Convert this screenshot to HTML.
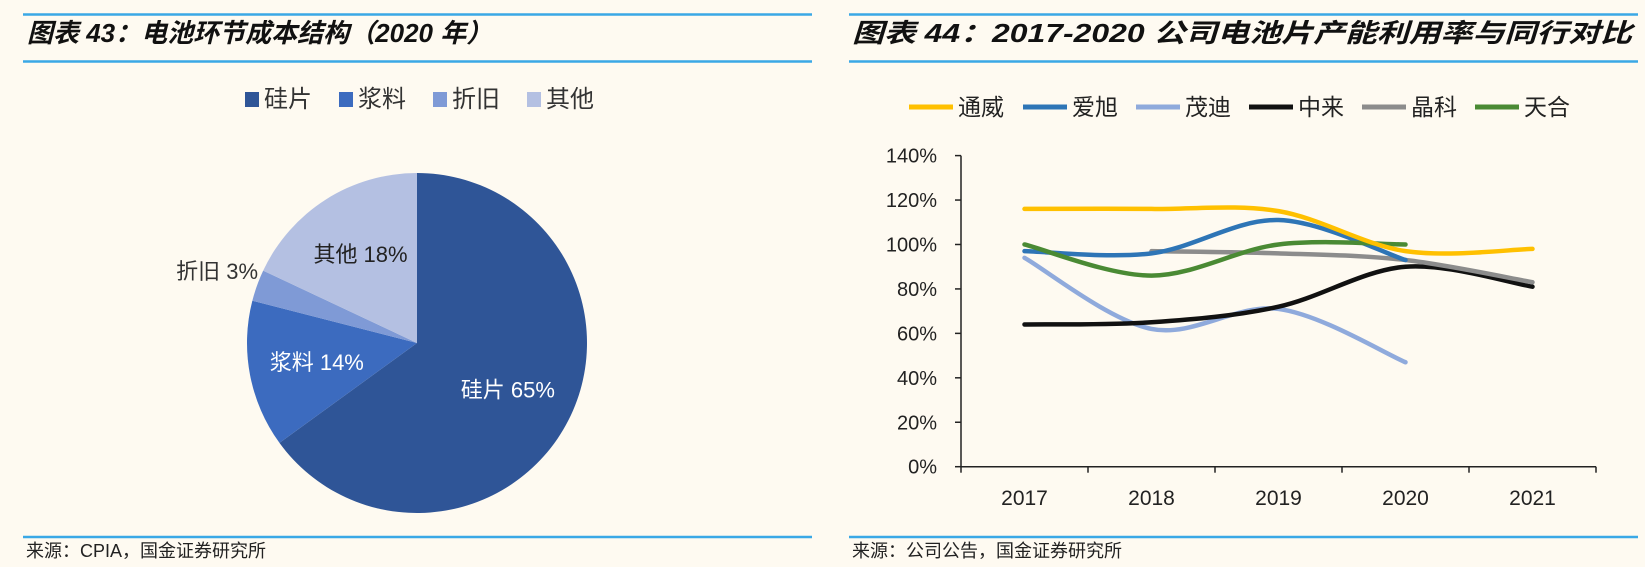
<!DOCTYPE html>
<html><head><meta charset="utf-8">
<style>
html,body{margin:0;padding:0;background:#fefaf1;}
svg{display:block;}
text{font-family:"Liberation Sans","Noto Sans CJK SC",sans-serif;}
.title{font-family:"Liberation Sans","Noto Sans CJK SC",sans-serif;font-style:italic;font-weight:bold;font-size:26px;fill:#111;}
</style></head>
<body>
<svg id="root" width="1645" height="567" viewBox="0 0 1645 567" xmlns="http://www.w3.org/2000/svg">
  <rect width="1645" height="567" fill="#fefaf1"/>
  <line x1="23" y1="14.5" x2="812" y2="14.5" stroke="#3aa8e6" stroke-width="2.5"/>
  <line x1="23" y1="61.5" x2="812" y2="61.5" stroke="#3aa8e6" stroke-width="2.5"/>
  <text class="title" x="27" y="42">图表 43：电池环节成本结构（2020 年）</text>
  <g id="pie-legend"></g>
  <g id="pie"></g>
  <line x1="23" y1="537" x2="812" y2="537" stroke="#3aa8e6" stroke-width="2.5"/>
  <text x="26" y="557" font-size="18" fill="#222">来源：CPIA，国金证券研究所</text>

  <line x1="849" y1="14.5" x2="1638" y2="14.5" stroke="#3aa8e6" stroke-width="2.5"/>
  <line x1="849" y1="61.5" x2="1638" y2="61.5" stroke="#3aa8e6" stroke-width="2.5"/>
  <text class="title" x="852" y="42" textLength="780" lengthAdjust="spacingAndGlyphs">图表 44：2017-2020 公司电池片产能利用率与同行对比</text>
  <g id="line-legend"></g>
  <g id="axes"></g>
  <g id="lines"></g>
  <line x1="849" y1="537" x2="1638" y2="537" stroke="#3aa8e6" stroke-width="2.5"/>
  <text x="852" y="557" font-size="18" fill="#222">来源：公司公告，国金证券研究所</text>
</svg>
<script>
const NS="http://www.w3.org/2000/svg";
const pieLabels=["硅片","浆料","折旧","其他"];
const pieValues=[65,14,3,18];
const pieColors=["#2f5597","#3c6bbf","#7f9ad6","#b4c0e2"];
const years=["2017","2018","2019","2020","2021"];
const seriesNames=["通威","爱旭","茂迪","中来","晶科","天合"];
const tongwei=[116,116,115,97,98];
const aixu=[97,96,111,93,null];
const maodi=[94,62,71,47,null];
const zhonglai=[64,65,72,90,81];
const jinko=[null,97,96,93,83];
const trina=[100,86,100,100,null];
const seriesColors=["#ffc000","#2e75b6","#8faadc","#111111","#8c8c8c","#4a8a34"];
const yTicks=[0,20,40,60,80,100,120,140];

function mk(tag,attrs,parent){const e=document.createElementNS(NS,tag);for(const k in attrs)e.setAttribute(k,attrs[k]);parent.appendChild(e);return e;}

(function(){
  const g=document.getElementById('pie-legend');
  const xs=[245,339,433,527];
  pieLabels.forEach((l,i)=>{
    const r=mk('rect',{x:xs[i],y:92,width:14,height:15,fill:pieColors[i]},g);
    
    
    const t=mk('text',{x:xs[i]+19,y:107,'font-size':24,fill:'#333'},g);
    t.textContent=l;
    
    
  });
})();
(function(){
  const g=document.getElementById('pie');
  const cx=417,cy=343,r=170;
  const total=pieValues.reduce((a,b)=>a+b,0);
  let a0=-Math.PI/2;
  pieValues.forEach((v,i)=>{
    const a1=a0+v/total*2*Math.PI;
    const large=(a1-a0)>Math.PI?1:0;
    const d=`M${cx},${cy} L${cx+r*Math.cos(a0)},${cy+r*Math.sin(a0)} A${r},${r} 0 ${large} 1 ${cx+r*Math.cos(a1)},${cy+r*Math.sin(a1)} Z`;
    const p=mk('path',{d:d,fill:pieColors[i]},g);
    
    
    const am=(a0+a1)/2;
    let lr=r*0.6, col='#fff';
    if(i===2){lr=r*1.25;col='#333';}
    if(i===3){lr=r*0.62;col='#222';}
    const t=mk('text',{x:cx+lr*Math.cos(am),y:cy+lr*Math.sin(am)+8,'font-size':22,fill:col,'text-anchor':'middle'},g);
    t.textContent=pieLabels[i]+' '+v+'%';
    
    
    a0=a1;
  });
})();
(function(){
  const x0=961,x1=1596,yBase=466.7,yTop=155.6;
  const ys=v=>yBase-(v-0)/(140)*(yBase-yTop);
  const band=(x1-x0)/years.length;
  const xs=i=>x0+band*(i+0.5);
  const ax=document.getElementById('axes');
  let e=mk('line',{x1:x0,y1:yTop,x2:x0,y2:yBase,stroke:'#222','stroke-width':1.5},ax);
  
  e=mk('line',{x1:x0,y1:yBase,x2:x1,y2:yBase,stroke:'#222','stroke-width':1.5},ax);
  
  yTicks.forEach(v=>{
    const tk=mk('line',{x1:x0-6,y1:ys(v),x2:x0,y2:ys(v),stroke:'#222','stroke-width':1.5},ax);
    
    const t=mk('text',{x:937,y:ys(v)+7,'font-size':20,fill:'#222','text-anchor':'end'},ax);
    t.textContent=v+'%';
    
  });
  for(let i=0;i<=years.length;i++){
    const tk=mk('line',{x1:x0+band*i,y1:yBase,x2:x0+band*i,y2:yBase+6,stroke:'#222','stroke-width':1.5},ax);
    
  }
  years.forEach((y,i)=>{
    const t=mk('text',{x:xs(i),y:505,'font-size':21,fill:'#222','text-anchor':'middle'},ax);
    t.textContent=y;
    
  });
  const lg=document.getElementById('line-legend');
  const lx=[909,1023,1136,1249,1362,1475];
  seriesNames.forEach((n,i)=>{
    const l=mk('line',{x1:lx[i],y1:107,x2:lx[i]+44,y2:107,stroke:seriesColors[i],'stroke-width':5},lg);
    
    const t=mk('text',{x:lx[i]+49,y:115,'font-size':23,fill:'#222'},lg);
    t.textContent=n;
    
  });
  const all=[tongwei,aixu,maodi,zhonglai,jinko,trina];
  const order=[2,3,4,1,5,0];
  const lgp=document.getElementById('lines');
  order.forEach(si=>{
    const data=all[si];
    const pts=[];
    data.forEach((v,i)=>{if(v!==null&&v!==undefined)pts.push([xs(i),ys(v)]);});
    let d=`M${pts[0][0]},${pts[0][1]}`;
    for(let k=0;k<pts.length-1;k++){
      const p0=pts[k-1]||pts[k],p1=pts[k],p2=pts[k+1],p3=pts[k+2]||p2;
      const c1=[p1[0]+(p2[0]-p0[0])/6,p1[1]+(p2[1]-p0[1])/6];
      const c2=[p2[0]-(p3[0]-p1[0])/6,p2[1]-(p3[1]-p1[1])/6];
      d+=` C${c1[0]},${c1[1]} ${c2[0]},${c2[1]} ${p2[0]},${p2[1]}`;
    }
    const p=mk('path',{d:d,fill:'none',stroke:seriesColors[si],'stroke-width':4.5,'stroke-linecap':'round'},lgp);
    
    
  });
})();
</script>
</body></html>
